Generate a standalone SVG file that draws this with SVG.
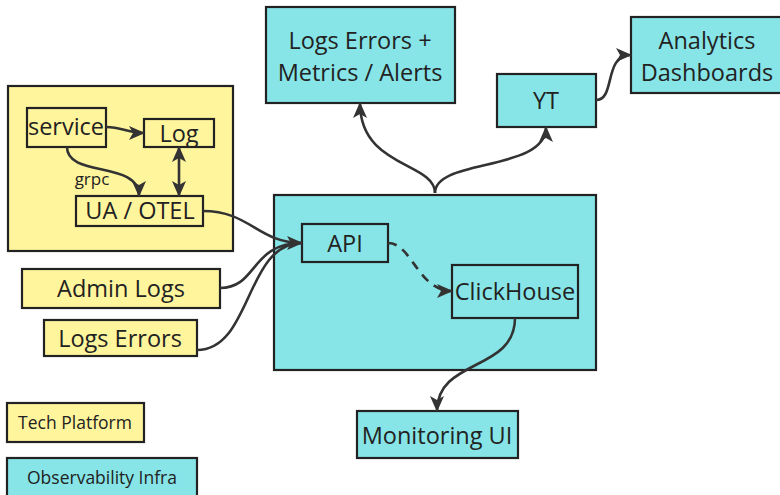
<svg xmlns="http://www.w3.org/2000/svg" width="780" height="495" viewBox="0 0 780 495">
<defs>
<style>
.y{fill:#fff59d;stroke:#222;stroke-width:2.2}
.c{fill:#87e5e7;stroke:#222;stroke-width:2.2}
.t{font-family:"Open Sans","DejaVu Sans",sans-serif;font-size:23.5px;fill:#222;text-anchor:middle}
.s{font-size:17.5px}
.e{fill:none;stroke:#333;stroke-width:2.6}
.d{stroke-dasharray:9 7}
</style>
<marker id="a" viewBox="0 0 16 14" refX="15" refY="7" markerWidth="16" markerHeight="14" markerUnits="userSpaceOnUse" orient="auto-start-reverse">
<path d="M0,0 L16,7 L0,14 L4,7 z" fill="#333"/>
</marker>
</defs>
<rect width="780" height="495" fill="#fff"/>
<g id="tech-platform-group"><rect class="y" x="8" y="86" width="225" height="165"/></g>
<g id="infra-group"><rect class="c" x="274" y="195" width="322" height="175"/></g>
<g id="service"><rect class="y" x="27" y="108" width="79" height="39"/><text class="t" x="66" y="135">service</text></g>
<g id="log"><rect class="y" x="144" y="119" width="70" height="28"/><text class="t" x="179" y="142">Log</text></g>
<g id="ua-otel"><rect class="y" x="76" y="196" width="127" height="30"/><text class="t" x="140" y="219">UA / OTEL</text></g>
<g id="admin-logs"><rect class="y" x="22" y="269" width="198" height="39"/><text class="t" x="121" y="297">Admin Logs</text></g>
<g id="logs-errors"><rect class="y" x="44" y="320" width="153" height="36"/><text class="t" x="120" y="347">Logs Errors</text></g>
<g id="api"><rect class="c" x="302" y="224" width="86" height="38"/><text class="t" x="345" y="252">API</text></g>
<g id="clickhouse"><rect class="c" x="452" y="265" width="126" height="53"/><text class="t" x="515" y="300">ClickHouse</text></g>
<g id="monitoring-ui"><rect class="c" x="357" y="411" width="161" height="47"/><text class="t" x="437" y="444">Monitoring UI</text></g>
<g id="logs-errors-metrics"><rect class="c" x="266" y="7" width="189" height="96"/><text class="t" x="360" y="49">Logs Errors +</text><text class="t" x="360" y="81">Metrics / Alerts</text></g>
<g id="yt"><rect class="c" x="497" y="74" width="99" height="53"/><text class="t" x="546" y="109">YT</text></g>
<g id="analytics"><rect class="c" x="631" y="17" width="160" height="76"/><text class="t" x="707" y="49">Analytics</text><text class="t" x="707" y="81">Dashboards</text></g>
<g id="legend-tech"><rect class="y" x="7" y="403" width="137" height="39"/><text class="t s" x="75" y="429">Tech Platform</text></g>
<g id="legend-infra"><rect class="c" x="7" y="458" width="190" height="45"/><text class="t s" x="102" y="484">Observability Infra</text></g>
<g id="connectors">
<path class="e" marker-end="url(#a)" d="M106,127 C122,127 128,133 144,133"/>
<path class="e" marker-end="url(#a)" d="M67,147 C67,178 139,160 139,196"/>
<path class="e" marker-start="url(#a)" marker-end="url(#a)" d="M179,147 L179,196"/>
<text class="t" style="font-size:17px" x="92" y="185">grpc</text>
<path class="e" marker-end="url(#a)" d="M203,211 C250,211 258,243 302,243"/>
<path class="e" d="M220,288 C258,288 250,243 302,243"/>
<path class="e" d="M197,350 C252,350 245,243 302,243"/>
<path class="e d" marker-end="url(#a)" d="M388,243 C412,243 418,291 452,291"/>
<path class="e" marker-end="url(#a)" d="M515,318 C515,372 437,358 437,411"/>
<path class="e" marker-end="url(#a)" d="M435,193 C435,162 360,168 360,103"/>
<path class="e" marker-end="url(#a)" d="M435,193 C435,158 546,172 546,127"/>
<path class="e" marker-end="url(#a)" d="M596,100 C616,100 603,55 631,55"/>
</g>
</svg>
